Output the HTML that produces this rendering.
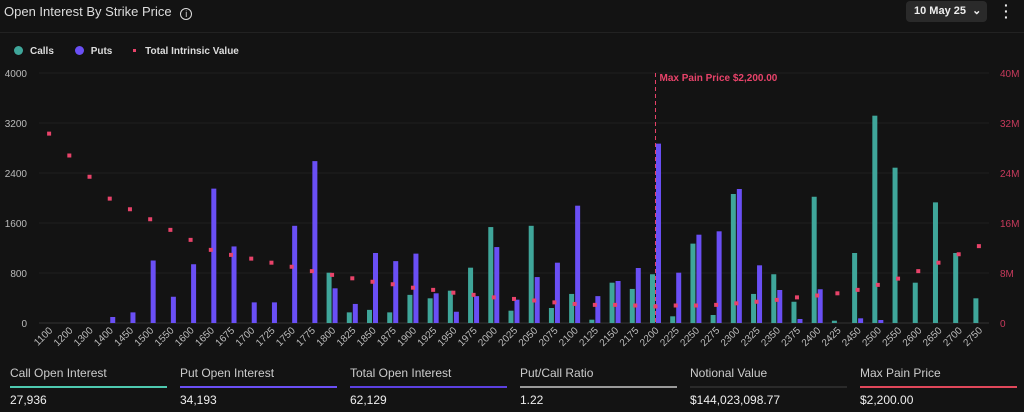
<!DOCTYPE html>
<html><head><meta charset="utf-8"><style>
body{margin:0;width:1024px;height:412px;background:#131313;font-family:"Liberation Sans",sans-serif;color:#ddd;overflow:hidden;position:relative}
.t{position:absolute}
.stat{position:absolute;top:366px;width:157px}
.stat .l{font-size:12px;color:#ccc}
.stat .b{height:2px;margin-top:6px}
.stat .v{font-size:12px;color:#eee;margin-top:5px}
</style></head><body>
<div class="t" style="left:4px;top:4px;font-size:13px;color:#ddd">Open Interest By Strike Price <span style="display:inline-block;width:10px;height:10px;border:1.3px solid #ddd;border-radius:50%;font-size:9px;line-height:10px;text-align:center;margin-left:5px;vertical-align:-1px">i</span></div>
<div class="t" style="left:906px;top:1px;width:81px;height:21px;background:#2a2a2a;border-radius:4px;font-size:11px;font-weight:bold;color:#eee;line-height:21px;text-indent:8px">10 May 25 &nbsp;⌄</div>
<div class="t" style="left:1004px;top:2px;font-size:14px;color:#eee;font-weight:bold;line-height:6px">·<br>·<br>·</div>
<div class="t" style="left:0;top:32px;width:1024px;height:1px;background:#222"></div>
<div class="t" style="left:14px;top:46px;font-size:10px;font-weight:bold;color:#ddd;white-space:nowrap">
<span><span style="display:inline-block;width:9px;height:9px;border-radius:50%;background:#3fa69a;vertical-align:-1px;margin-right:7px"></span>Calls</span>
<span style="margin-left:18px"><span style="display:inline-block;width:9px;height:9px;border-radius:50%;background:#6a4ff5;vertical-align:-1px;margin-right:7px"></span>Puts</span>
<span style="margin-left:18px"><span style="display:inline-block;width:3px;height:3px;background:#e8436a;vertical-align:2px;margin-right:9px"></span>Total Intrinsic Value</span>
</div>
<svg id="ch" width="1024" height="360" style="position:absolute;left:0;top:0"></svg>
<div class="stat" style="left:10px"><div class="l">Call Open Interest</div><div class="b" style="background:#4ec9b0"></div><div class="v">27,936</div></div>
<div class="stat" style="left:180px"><div class="l">Put Open Interest</div><div class="b" style="background:#6a4ff5"></div><div class="v">34,193</div></div>
<div class="stat" style="left:350px"><div class="l">Total Open Interest</div><div class="b" style="background:#5b40e0"></div><div class="v">62,129</div></div>
<div class="stat" style="left:520px"><div class="l">Put/Call Ratio</div><div class="b" style="background:#9a9a9a"></div><div class="v">1.22</div></div>
<div class="stat" style="left:690px"><div class="l">Notional Value</div><div class="b" style="background:#2a2a2a"></div><div class="v">$144,023,098.77</div></div>
<div class="stat" style="left:860px"><div class="l">Max Pain Price</div><div class="b" style="background:#e0475a"></div><div class="v">$2,200.00</div></div>
<script>
const strikes=[1100,1200,1300,1400,1450,1500,1550,1600,1650,1675,1700,1725,1750,1775,1800,1825,1850,1875,1900,1925,1950,1975,2000,2025,2050,2075,2100,2125,2150,2175,2200,2225,2250,2275,2300,2325,2350,2375,2400,2425,2450,2500,2550,2600,2650,2700,2750];
const calls=[0,0,0,0,0,0,0,0,0,0,0,0,0,0,805,170,210,170,450,395,517,885,1535,197,1555,240,465,53,645,545,780,107,1270,128,2064,465,780,340,2020,37,1120,3317,2485,645,1930,1120,395];
const puts=[0,0,0,96,170,1000,420,940,2150,1225,330,330,1555,2590,555,305,1120,990,1110,475,180,430,1215,373,735,965,1877,430,672,880,2870,805,1413,1467,2144,923,528,64,540,0,75,48,0,0,0,0,0];
const intrinsic=[30.3,26.8,23.4,19.9,18.2,16.6,14.9,13.3,11.7,10.9,10.3,9.65,9.0,8.3,7.7,7.15,6.6,6.2,5.65,5.3,4.85,4.5,4.1,3.85,3.6,3.3,3.05,2.9,2.9,2.8,2.65,2.8,2.8,2.9,3.15,3.4,3.7,4.1,4.4,4.75,5.3,6.1,7.1,8.3,9.65,11.0,12.3];
const leftTicks=[0,800,1600,2400,3200,4000];
const rightTicks=[0,8,16,24,32,40];
const maxPain=2200;
const NS="http://www.w3.org/2000/svg",svg=document.getElementById('ch');
const X0=39,X1=989,Y0=323,Y1=73;
const n=strikes.length,slot=(X1-X0)/n;
const xc=i=>X0+slot*(i+0.5);
const yL=v=>Y0-(v/4000)*(Y0-Y1);
const yR=v=>Y0-(v/40)*(Y0-Y1);
function el(t,a,p){const e=document.createElementNS(NS,t);for(const k in a)e.setAttribute(k,a[k]);(p||svg).appendChild(e);return e;}
leftTicks.forEach((v,i)=>{
 const g=el('line',{x1:X0,x2:X1,y1:yL(v),y2:yL(v),stroke:i==0?'#333':'#1f1f1f','stroke-width':1});
 
 
 const t=el('text',{x:27,y:yL(v)+4,'text-anchor':'end','font-size':10,fill:'#bbb'});t.textContent=v;
 
 
});
rightTicks.forEach(v=>{
 const t=el('text',{x:1000,y:yR(v)+4,'font-size':10,fill:'#c73a5c'});t.textContent=v?v+'M':'0';
 
 
});
strikes.forEach((s,i)=>{
 const cx=xc(i);
 if(calls[i]>0){const r=el('rect',{x:cx-5.5,y:yL(calls[i]),width:5,height:Y0-yL(calls[i]),fill:'#3fa69a'});
  
  }
 if(puts[i]>0){const r=el('rect',{x:cx+0.5,y:yL(puts[i]),width:5,height:Y0-yL(puts[i]),fill:'#6a4ff5'});
  
  }
 const d=el('rect',{x:cx-2,y:yR(intrinsic[i])-2,width:4,height:4,fill:'#e8436a'});
 
 
 const t=el('text',{x:cx+4,y:331,'text-anchor':'end','font-size':10,fill:'#bbb',transform:`rotate(-45 ${cx+4} 331)`});t.textContent=s;
 
 
});
const mi=strikes.indexOf(maxPain),mx=xc(mi);
const ml=el('line',{x1:mx,x2:mx,y1:Y1,y2:Y0,stroke:'#e8436a','stroke-width':1,'stroke-dasharray':'4,3'});


const mt=el('text',{x:mx+4,y:81,'font-size':10,'font-weight':'bold',fill:'#e8436a'});mt.textContent='Max Pain Price $2,200.00';


</script>
</body></html>
